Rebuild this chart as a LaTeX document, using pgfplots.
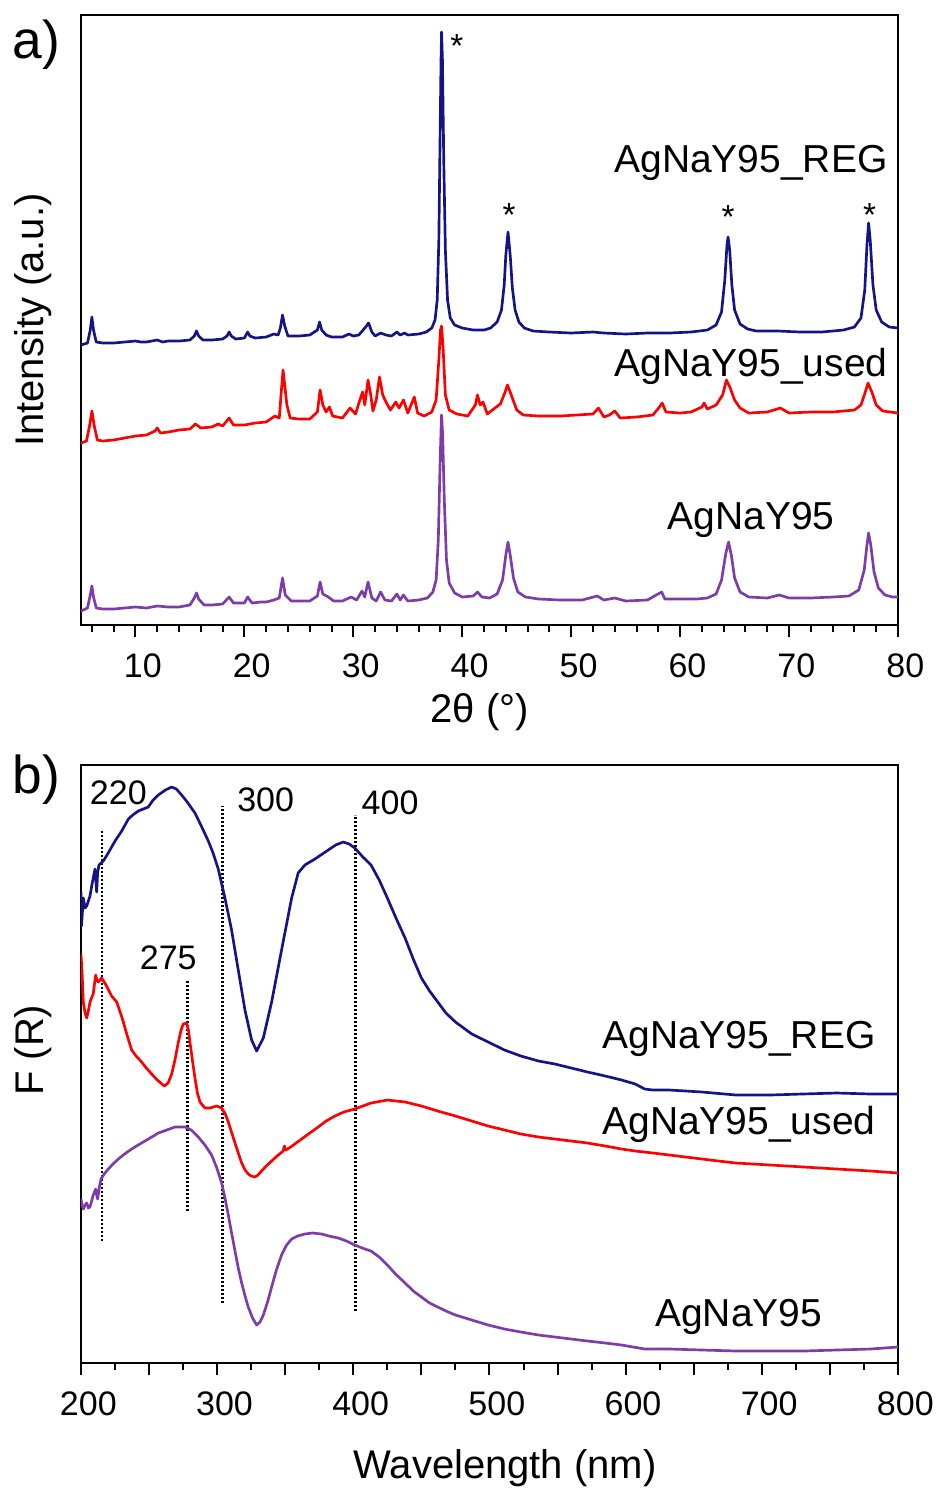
\documentclass[border=0pt]{standalone}
\usepackage{fontspec}
\setmainfont{Liberation Sans}
\usepackage{pgfplots}
\pgfplotsset{compat=1.18}
\definecolor{cblue}{RGB}{20,20,135}
\definecolor{cred}{RGB}{255,0,0}
\definecolor{cpurple}{RGB}{125,60,170}
\tikzset{
  curvelab/.style={font=\fontsize{11.7}{14}\selectfont, inner sep=0pt},
  numlab/.style={font=\fontsize{10.2}{12}\selectfont},
}
\pgfplotsset{
  common/.style={
    scale only axis, clip mode=individual,
    axis line style={line width=0.6pt},
    tick align=outside, xtick pos=left, ytick=\empty,
    major tick length=3.7pt, minor tick length=2pt,
    every tick/.style={black, line width=0.6pt},
    /pgf/number format/assume math mode=true,
    tick label style={font=\fontsize{10.2}{12}\selectfont},
    xticklabel shift=1.3pt,
    xticklabel style={xshift=2.2pt},
    label style={font=\fontsize{12}{14}\selectfont},
    every axis plot/.append style={line width=0.8pt, line join=round},
  },
}
\begin{document}
\begin{tikzpicture}
\useasboundingbox (0pt,0pt) rectangle (281.4pt,-447.3pt);
% ---------------- panel a ----------------
\begin{axis}[common,
  at={(24.3pt,-187.5pt)}, anchor=south west,
  width=245.1pt, height=183pt,
  xmin=5, xmax=80, ymin=0, ymax=610,
  xtick={10,20,...,80},
  minor xtick={6,8,12,14,16,18,22,24,26,28,32,34,36,38,42,44,46,48,52,54,56,58,62,64,66,68,72,74,76,78},
  xlabel={2θ (°)},
  xlabel style={at={(axis description cs:0.488,-0.1426)}, anchor=center},
  ylabel={Intensity (a.u.)},
  ylabel style={at={(axis description cs:-0.059,0.5)}, anchor=center},
]
% AgNaY95_REG
\addplot[cblue] coordinates {
(5.0,280) (5.6,282) (5.85,295) (6.0,308) (6.15,295) (6.4,283) (7,282) (8,282) (9,283) (10,284) (10.5,283) (11,283) (12,285) (12.5,283) (13,284) (14,284) (15,285) (15.4,289) (15.6,294) (15.8,289) (16.2,285) (17,285) (18,286) (18.4,289) (18.6,293) (18.8,289) (19.2,286) (20,287) (20.1,289) (20.3,293) (20.5,289) (21,287) (22,288) (22.7,291) (23.1,290) (23.3,297) (23.5,310) (23.7,299) (24,289) (25,289) (26,290) (26.7,295) (26.9,303) (27.1,295) (27.5,290) (28,288) (29,288) (29.6,291) (30,289) (30.5,290) (30.9,295) (31.2,299) (31.4,302) (31.7,293) (32,289) (32.5,292) (33,290) (33.5,289) (34,293) (34.3,290) (34.7,292) (35,290) (36,291) (36.7,293) (37.2,297) (37.5,305) (37.7,325) (37.85,385) (37.95,475) (38.05,565) (38.1,593) (38.18,565) (38.3,465) (38.45,375) (38.65,325) (38.9,307) (39.3,300) (40,297) (41,295) (42,295) (42.6,297) (43.2,303) (43.6,315) (43.85,340) (44.0,370) (44.2,393) (44.4,370) (44.6,337) (44.85,315) (45.2,303) (45.7,297) (46.5,294) (48,293) (50,292) (52,293) (53,292) (55,291) (57,292) (59,292) (61,293) (62.5,295) (63.3,300) (63.8,313) (64.1,345) (64.3,380) (64.4,388) (64.55,375) (64.75,340) (65.0,315) (65.5,301) (66.2,296) (67,294) (69,294) (71,293) (73,293) (75,295) (76.0,298) (76.6,307) (76.95,335) (77.15,380) (77.3,402) (77.45,385) (77.7,340) (78.0,315) (78.5,303) (79.2,298) (80,297)
};
% AgNaY95_used
\addplot[cred] coordinates {
(5.0,182) (5.5,184) (5.8,200) (6.0,214) (6.2,200) (6.5,185) (7,184) (8,185) (9,187) (10,189) (11,190) (11.8,194) (12,197) (12.3,192) (13,193) (14,195) (15,196) (15.5,201) (16,197) (17,198) (17.6,201) (18,199) (18.6,207) (19,200) (20,200) (21,202) (22,203) (22.8,209) (23.2,207) (23.4,235) (23.55,255) (23.7,240) (23.9,220) (24.2,207) (25,206) (26,206) (26.7,213) (26.95,235) (27.2,220) (27.5,213) (27.8,218) (28.1,209) (29,207) (29.7,217) (30.2,211) (30.6,225) (30.85,233) (31.05,220) (31.35,245) (31.6,230) (31.8,214) (32.1,225) (32.4,248) (32.7,230) (33.0,223) (33.4,215) (33.9,223) (34.2,217) (34.6,225) (35.0,212) (35.6,228) (35.9,212) (36.5,209) (37.2,213) (37.6,225) (37.85,265) (38.0,295) (38.1,299) (38.25,275) (38.45,230) (38.8,215) (39.5,211) (40.5,209) (41.2,220) (41.4,230) (41.65,220) (41.9,223) (42.3,211) (43.0,217) (43.5,221) (43.9,232) (44.15,240) (44.5,230) (45.0,215) (45.6,210) (47,209) (49,209) (50.5,210) (52.0,211) (52.5,217) (53.0,208) (53.5,210) (54.0,214) (54.5,207) (56,208) (57.5,210) (58.1,218) (58.35,222) (58.7,213) (60,212) (61,213) (62.0,218) (62.2,222) (62.5,216) (63.3,220) (63.9,230) (64.25,245) (64.6,237) (65.0,225) (65.5,217) (66.3,212) (68,213) (69.2,217) (70,212) (72,213) (74,213) (76,215) (76.6,220) (77.0,233) (77.25,242) (77.6,233) (78.0,220) (78.6,214) (79.3,213) (80,212)
};
% AgNaY95
\addplot[cpurple] coordinates {
(5.0,14) (5.6,17) (5.85,30) (6.0,39) (6.15,28) (6.4,17) (7,16) (8,16) (9,17) (10,18) (11,17) (12,19) (13,18) (14,18) (15,20) (15.4,27) (15.6,32) (15.8,26) (16.3,20) (17,20) (18,21) (18.6,28) (19,22) (20,22) (20.3,28) (20.7,22) (21.5,23) (22,23) (22.7,25) (23.2,27) (23.5,47) (23.75,30) (24.3,24) (25,24) (26,24) (26.7,29) (26.95,43) (27.2,31) (27.7,28) (28.2,24) (29,24) (29.8,28) (30.3,25) (30.8,34) (31.05,28) (31.35,43) (31.7,27) (32.1,24) (32.5,33) (32.9,25) (33.5,24) (34.0,31) (34.3,25) (34.6,30) (35.0,24) (36,25) (36.8,27) (37.3,33) (37.6,45) (37.8,85) (37.95,155) (38.05,195) (38.1,210) (38.2,190) (38.35,125) (38.55,65) (38.8,42) (39.3,32) (40,28) (41,29) (41.4,33) (41.8,28) (42.5,27) (43.2,31) (43.7,45) (44.0,70) (44.2,83) (44.4,70) (44.7,47) (45.1,33) (45.8,28) (47,26) (49,25) (51,25) (52.4,29) (53,25) (54,27) (55,24) (57,25) (58.3,33) (58.6,26) (60,26) (61.5,26) (62.5,27) (63.3,31) (63.8,45) (64.2,72) (64.45,83) (64.7,70) (65.0,47) (65.5,33) (66.3,28) (68,27) (69.1,30) (70,27) (72,27) (74,28) (75.5,29) (76.4,35) (76.9,55) (77.15,80) (77.3,92) (77.5,80) (77.8,53) (78.2,37) (78.8,30) (79.5,28) (80,28)
};
\node[font=\fontsize{10}{12}\selectfont] at (axis cs:39.5,579) {*};
\node[font=\fontsize{10}{12}\selectfont] at (axis cs:44.3,410) {*};
\node[font=\fontsize{10}{12}\selectfont] at (axis cs:64.4,408) {*};
\node[font=\fontsize{10}{12}\selectfont] at (axis cs:77.4,410) {*};
\node[curvelab, anchor=east] at (axis cs:79.1,462) {AgNaY95\_REG};
\node[curvelab, anchor=east] at (axis cs:79.1,259) {AgNaY95\_used};
\node[curvelab] at (axis cs:66.5,105) {AgNaY95};
\node[font=\fontsize{16}{18}\selectfont] at (axis description cs:-0.055,0.951) {a)};
\end{axis}
% ---------------- panel b ----------------
\begin{axis}[common,
  at={(24.3pt,-408.9pt)}, anchor=south west,
  width=245.1pt, height=179.4pt,
  xmin=200, xmax=800, ymin=0, ymax=598,
  xtick={200,250,...,800},
  xticklabels={200,,300,,400,,500,,600,,700,,800},
  minor xtick={225,275,...,775},
  xlabel={Wavelength (nm)},
  xlabel style={at={(axis description cs:0.519,-0.1756)}, anchor=center},
  ylabel={F (R)},
  ylabel style={at={(axis description cs:-0.059,0.523)}, anchor=center},
]
% dotted guide lines
\addplot[black, line width=0.7pt, dash pattern=on 0.6pt off 0.6pt] coordinates {(215.2,122) (215.2,534)};
\addplot[black, line width=0.7pt, dash pattern=on 0.6pt off 0.6pt] coordinates {(278.3,152) (278.3,383)};
\addplot[black, line width=0.7pt, dash pattern=on 0.6pt off 0.6pt] coordinates {(304,60) (304,557)};
\addplot[black, line width=0.7pt, dash pattern=on 0.6pt off 0.6pt] coordinates {(401.6,52) (401.6,548)};
% AgNaY95_REG
\addplot[cblue] coordinates {
(200,471) (200.4,437) (201.7,465) (203,455) (204.2,457) (205.4,462) (206.6,467) (208,478) (209,485) (210.3,494) (211.5,471) (212.2,490) (213.2,498) (216.4,502) (220,510) (225,522) (229.9,532) (234.8,544) (238,548) (242.1,552) (249.4,556) (253,563) (256.8,568) (262,573) (266.6,576) (270,574) (273.9,568) (278,561) (283.7,550) (288,538) (293.5,522) (297,510) (300.8,494) (305.7,465) (310.6,433) (315.5,393) (320.4,353) (325.3,323) (329,312) (333.9,325) (340,361) (347.3,413) (354.7,465) (359.5,490) (364.4,498) (371.8,504) (381.6,513) (387,518) (392.6,521) (397,519) (401.1,515) (407,506) (413,498) (419,483) (425,465) (431,446) (438,425) (444,404) (450,385) (456,372) (462,361) (468,350) (475,341) (487,329) (499,321) (511,313) (523,307) (536,302) (548,299) (560,295) (572,291) (585,287) (597,283) (607,279) (614,274) (620,273) (632,273) (656,271) (681,268) (706,268) (730,269) (755,270) (780,269) (800,269)
};
% AgNaY95_used
\addplot[cred] coordinates {
(200,409) (200.8,390) (201.7,361) (203,350) (204.2,345) (205.4,352) (206.6,361) (208,366) (209,369) (210,380) (210.8,388) (211.6,383) (212.7,381) (215.2,385) (218.8,377) (222.5,367) (226.2,361) (229,350) (231.1,341) (234,327) (237.2,313) (240.5,307) (244.5,301) (248,295) (251.9,289) (256,283) (261.2,277) (264,280) (266.6,289) (269,303) (271.5,321) (273.5,333) (275.1,339) (277.6,340) (279,332) (280,321) (281.8,303) (283.7,285) (285.5,270) (287.4,261) (291,255) (294.7,255) (299.6,257) (303.3,255) (306,249) (308.2,241) (310.5,231) (313.1,220) (315.5,210) (318,200) (320.5,193) (322.8,189) (325,187) (327.7,186) (330,188) (332.6,192) (336,197) (340,202) (344,207) (348.5,212) (349.3,217) (350.5,213) (355,217) (362,224) (368,230) (374.2,236) (380,242) (386.5,247) (393,251) (401,254) (413,260) (425,263) (438,261) (450,257) (462,252) (475,247) (487,242) (499,237) (511,233) (523,229) (536,226) (548,224) (560,222) (572,220) (585,217) (597,214) (607,212) (620,210) (632,208) (644,206) (656,204) (668,202) (681,200) (706,198) (731,196) (755,194) (780,192) (800,190)
};
% AgNaY95
\addplot[cpurple] coordinates {
(200,164) (200.8,158) (201.7,154) (203,158) (204.2,160) (205.4,155) (206.6,156) (208,163) (209,168) (210.8,174) (211.5,168) (212.2,164) (213.5,176) (214.7,184) (217,189) (220,194) (223.5,199) (227.4,204) (232,209) (237.2,214) (242,218) (247,222) (252,226) (256.8,230) (263,233) (269,236) (276.4,236) (281,233) (286.1,226) (291,218) (295.9,208) (299.5,196) (303.3,180) (305.7,165) (308.2,148) (310.6,130) (313.1,112) (315.5,95) (318,80) (320.5,67) (322.8,56) (326,45) (329,38) (331.5,41) (333.9,48) (337,61) (340,76) (343.5,93) (347.3,108) (351,118) (354.7,124) (359,127) (364.4,129) (370,130) (376.7,129) (382,127) (388.9,125) (395,122) (401,118) (408.5,114) (413,112) (419,106) (425,98) (431,89) (438,80) (444,72) (450,66) (456,60) (462,56) (468,52) (475,48) (487,43) (499,38) (511,34) (523,31) (536,28) (548,26) (560,24) (572,22) (585,20) (597,18) (614,14) (632,14) (656,13) (681,12) (706,12) (731,12) (755,13) (780,14) (800,16)
};
\node[numlab] at (axis cs:227.4,570) {220};
\node[numlab] at (axis cs:264.1,405) {275};
\node[numlab] at (axis cs:335.6,563) {300};
\node[numlab] at (axis cs:427,560) {400};
\node[curvelab, anchor=east] at (axis cs:784,324) {AgNaY95\_REG};
\node[curvelab, anchor=east] at (axis cs:784,239) {AgNaY95\_used};
\node[curvelab] at (axis cs:683,46) {AgNaY95};
\node[font=\fontsize{16}{18}\selectfont] at (axis description cs:-0.055,0.975) {b)};
\end{axis}
\end{tikzpicture}
\end{document}
